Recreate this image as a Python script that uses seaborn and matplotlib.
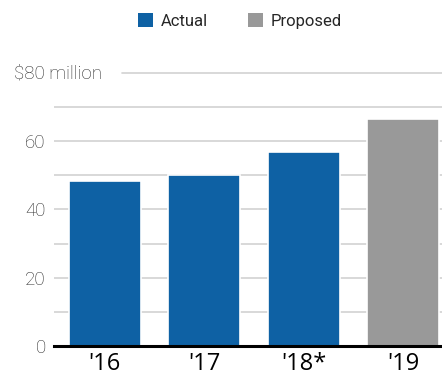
import matplotlib
matplotlib.use("Agg")
import matplotlib.pyplot as plt
import seaborn as sns
import pandas as pd
from matplotlib.patches import Patch

years = ["'16", "'17", "'18*", "'19"]
values = [48.4, 50.1, 56.9, 66.6]
status = ["Actual", "Actual", "Actual", "Proposed"]
yticks = [0, 20, 40, 60]
ytick_labels = ["0", "20", "40", "60"]
top_label = "$80 million"
top_value = 80
colors = {"Actual": "#0e61a4", "Proposed": "#999999"}

sns.set_theme(style="white")
plt.rcParams['font.family'] = ['Roboto', 'DejaVu Sans']

df = pd.DataFrame({"year": years, "value": values, "status": status})

W, H = 442, 371
fig = plt.figure(figsize=(W / 100, H / 100), dpi=100)
ax = fig.add_axes([54 / W, 25 / H, (W - 54) / W, (346 - 66) / H])

sns.barplot(data=df, x="year", y="value", hue="status", palette=colors,
            dodge=False, width=0.725, edgecolor="white", linewidth=1.2,
            saturation=1, legend=False, ax=ax, zorder=3)

ax.set_xlim(-0.51, 3.39)
ax.set_ylim(0, 82)
for v in range(10, 80, 10):
    ax.axhline(v, color="#d2d2d2", lw=1.2, zorder=1)
ax.axhline(top_value, xmin=(122 - 54) / (W - 54), xmax=1, color="#d2d2d2", lw=1.2, zorder=1)

ax.set_yticks(yticks)
ax.set_yticklabels(ytick_labels, fontweight="light")
ax.tick_params(axis="y", length=0, pad=6, labelsize=13.5, labelcolor="#2a2a2a")
ax.set_xticks(range(len(years)))
ax.set_xticklabels(years, family=["Open Sans", "DejaVu Sans"])
ax.tick_params(axis="x", length=0, pad=4, labelsize=17, labelcolor="black")
ax.text(14 / W, 1 - 73 / H, top_label, transform=fig.transFigure, ha="left", va="center",
        fontsize=13.5, color="#2a2a2a", fontweight="light")

for s in ["top", "right", "left"]:
    ax.spines[s].set_visible(False)
ax.spines["bottom"].set_color("black")
ax.spines["bottom"].set_linewidth(2.2)
ax.spines["bottom"].set_zorder(5)
ax.set_xlabel("")
ax.set_ylabel("")

handles = [Patch(facecolor=colors[k], edgecolor="none", label=k) for k in ["Actual", "Proposed"]]
fig.legend(handles=handles, loc="center", bbox_to_anchor=(240 / W, 1 - 21 / H), ncol=2,
           frameon=False, fontsize=12, handlelength=0.9, handleheight=0.9,
           handletextpad=0.45, columnspacing=2.4)

fig.savefig("out.png", dpi=100)
